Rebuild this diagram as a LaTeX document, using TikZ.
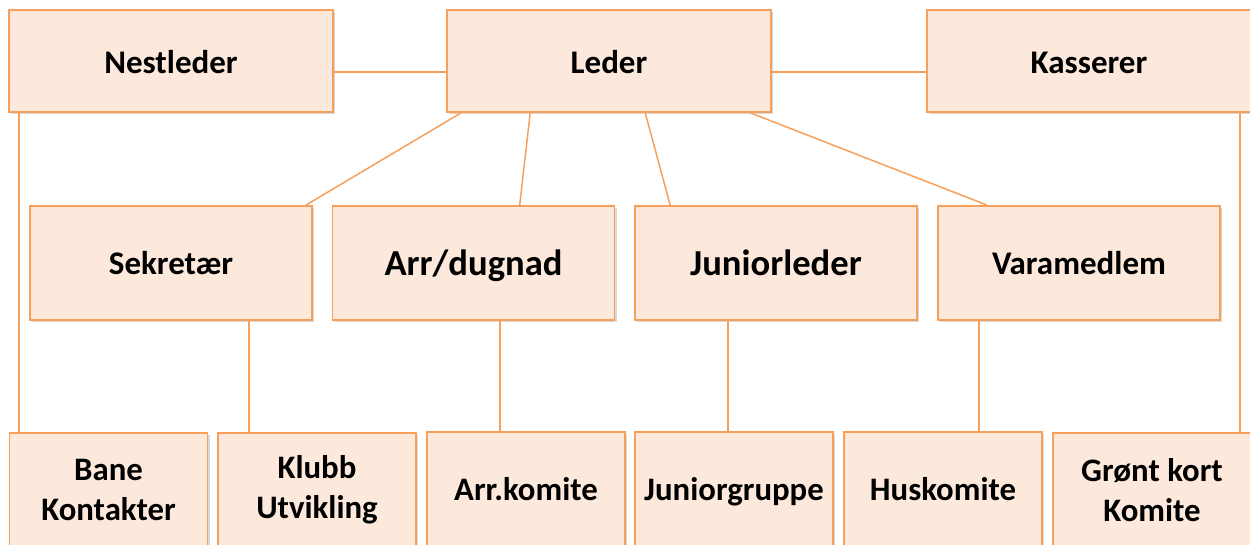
\documentclass[tikz,border=0pt]{standalone}
\usepackage{fontspec}
\setmainfont{Carlito}
\usetikzlibrary{shadows}
\definecolor{boxfill}{HTML}{FCE9DB}
\definecolor{boxline}{HTML}{F6A05C}
\tikzset{
  px/.style={x=0.5pt,y=-0.5pt},
  box/.style={draw=boxline, line width=0.8pt, fill=boxfill, align=center,
    font=\bfseries, inner sep=0pt,
    drop shadow={shadow xshift=1pt, shadow yshift=-1pt, opacity=0.25, fill=black!60}},
  topbox/.style={box, text height=14.5pt, text depth=2pt, minimum width=162pt, minimum height=51pt, font=\bfseries\fontsize{16.5}{19}\selectfont},
  midbox/.style={box, text height=13.5pt, text depth=2pt, minimum width=141pt, minimum height=57pt, font=\bfseries\fontsize{16.5}{19}\selectfont},
  midbig/.style={midbox, text height=14.5pt, text depth=2pt, font=\bfseries\fontsize{18.3}{21}\selectfont},
  botbox/.style={box, minimum width=99pt, minimum height=57pt, font=\bfseries\fontsize{16.4}{20}\selectfont},
  botone/.style={botbox, text height=13.5pt, text depth=2pt},
  conn/.style={draw=boxline, line width=0.75pt}
}
\begin{document}
\begin{tikzpicture}[px]
\useasboundingbox (0,0) rectangle (1250,545);
% top row
\node[topbox] (nest) at (171,61) {Nestleder};
\node[topbox] (leder) at (609,61) {Leder};
\node[topbox] (kass) at (1089,61) {Kasserer};
% middle row
\node[midbox] (sekr) at (171,263) {Sekretær};
\node[midbig] (arr) at (473.5,263) {Arr/dugnad};
\node[midbig] (jun) at (776,263) {Juniorleder};
\node[midbox] (vara) at (1079,263) {Varamedlem};
% bottom row
\node[botbox] (bane) at (108.5,490) {Bane\\Kontakter};
\node[botbox] (klubb) at (317,490) {Klubb\\Utvikling};
\node[botone] (arrk) at (526,489) {Arr.komite};
\node[botone] (jung) at (734,489) {Juniorgruppe};
\node[botone] (hus) at (943,489) {Huskomite};
\node[botbox] (gron) at (1152,490) {Grønt kort\\Komite};
% connectors
\draw[conn] (nest.east |- 0,72) -- (leder.west |- 0,72);
\draw[conn] (leder.east |- 0,72) -- (kass.west |- 0,72);
\draw[conn] ([xshift=5.5pt]nest.south west) -- ([xshift=5.5pt]nest.south west |- bane.north);
\draw[conn] (kass.south -| 1240,0) -- (gron.north -| 1240,0);
\draw[conn] ([xshift=7.5pt]leder.south west) -- ([xshift=-3.5pt]sekr.north east);
\draw[conn] ([xshift=42pt]leder.south west) -- ([xshift=94pt]arr.north west);
\draw[conn] ([xshift=99.5pt]leder.south west) -- ([xshift=18pt]jun.north west);
\draw[conn] ([xshift=152pt]leder.south west) -- ([xshift=25pt]vara.north west);
\draw[conn] (sekr.south -| 249,0) -- (klubb.north -| 249,0);
\draw[conn] (arr.south -| 500,0) -- (arrk.north -| 500,0);
\draw[conn] (jun.south -| 728,0) -- (jung.north -| 728,0);
\draw[conn] (vara.south -| 979,0) -- (hus.north -| 979,0);
\end{tikzpicture}
\end{document}
